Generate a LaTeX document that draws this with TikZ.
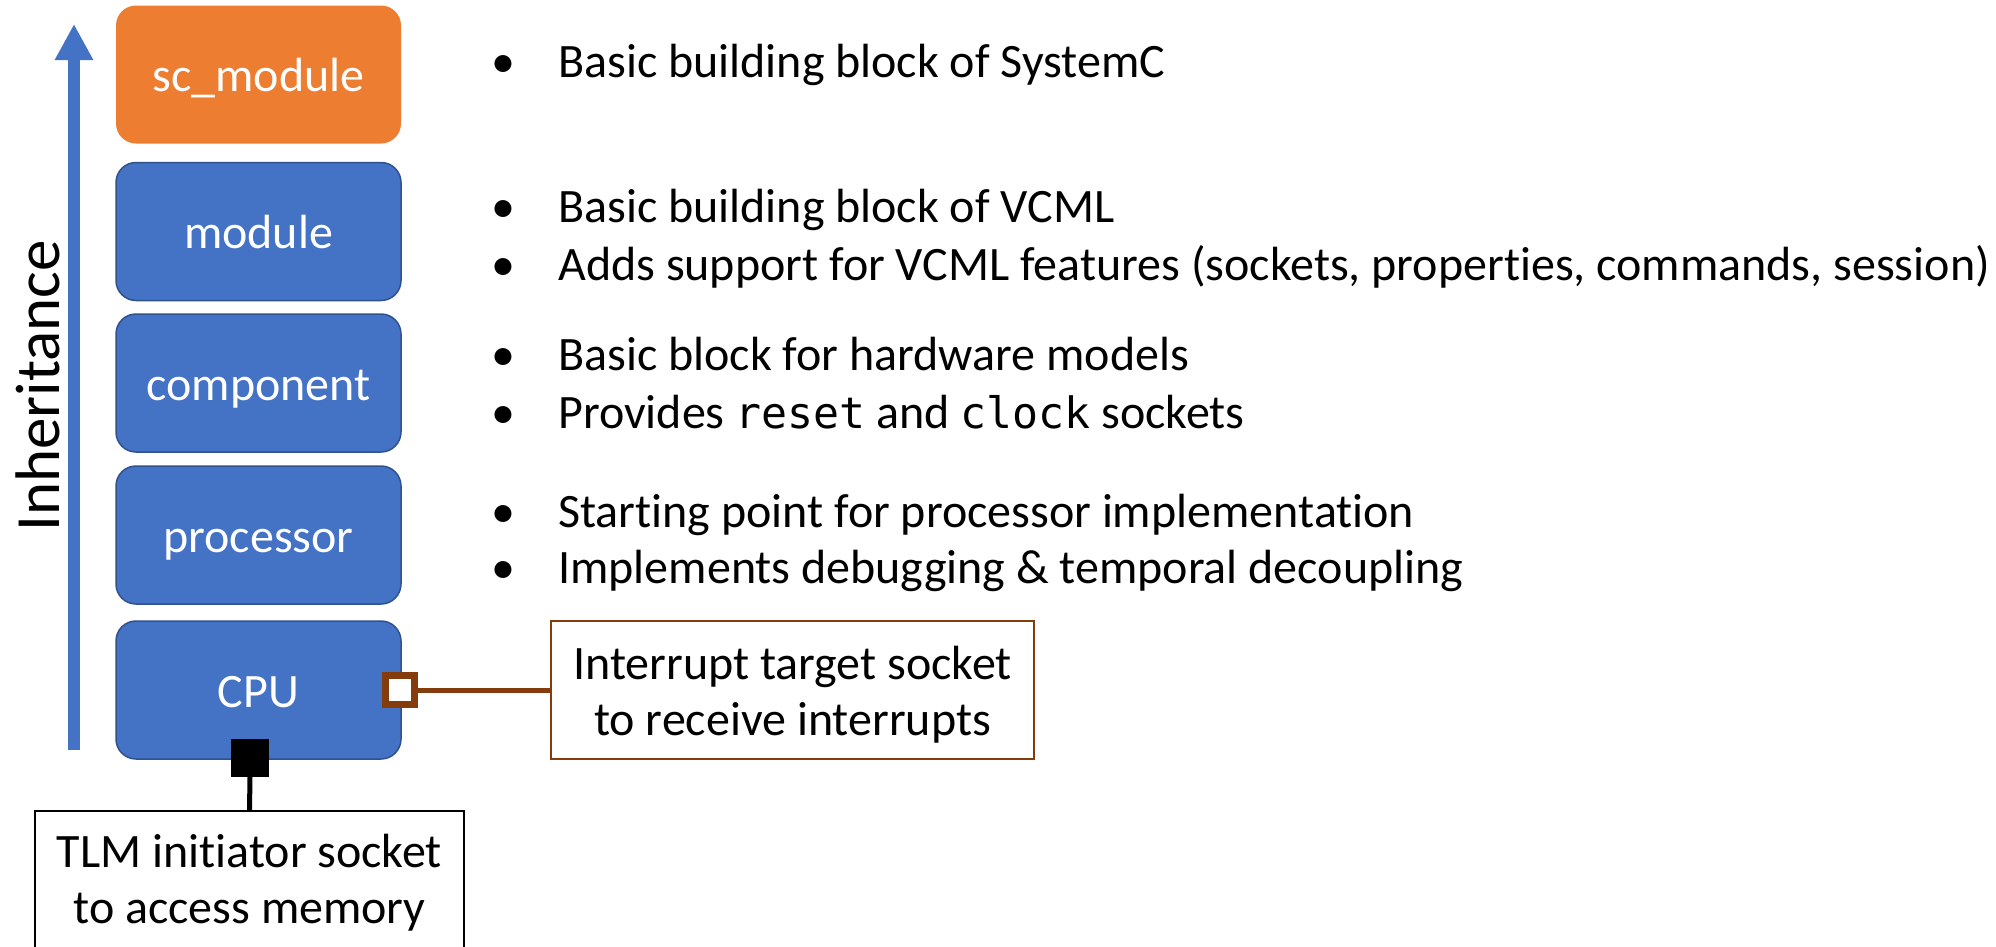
\documentclass[tikz,border=0pt]{standalone}
\usepackage{fontspec}
\setmainfont{Carlito}[Ligatures=NoCommon]
\newfontfamily\codefont{DejaVu Sans Mono}[Scale=0.9]
\usetikzlibrary{arrows.meta}

\definecolor{vorange}{HTML}{ED7D31}
\definecolor{vblue}{HTML}{4472C4}
\definecolor{vblueedge}{HTML}{2F528F}
\definecolor{vbrown}{HTML}{843C0C}

\newcommand{\bodyfont}{\fontsize{48}{56}\selectfont}

\begin{document}
\begin{tikzpicture}[x=1pt, y=-1pt,
  classbox/.style={draw=vblueedge, line width=1.5pt, fill=vblue, rounded corners=20pt,
    text=white, minimum width=285pt, minimum height=138pt, inner sep=0pt,
    text height=34pt, text depth=0pt, font=\bodyfont},
  basebox/.style={classbox, draw=none, fill=vorange},
  bullettext/.style={anchor=base west, inner sep=0pt, font=\bodyfont},
  bulletdot/.style={anchor=base, inner sep=0pt, font=\bodyfont},
  notebox/.style={draw, line width=2pt, fill=white, minimum width=429pt, inner sep=0pt},
  notetext/.style={align=center, inner sep=0pt, font=\bodyfont},
  inherit/.style={line width=12pt, vblue, -{Triangle[width=36pt, length=36pt]}}
]
\clip (0,0) rectangle (1996,946);
\fill[white] (0,0) rectangle (1996,946);

% inheritance arrow and its label
\coordinate (arrowfoot) at (74,750);
\coordinate (arrowtip) at (74,24);
\draw[inherit] (arrowfoot) -- (arrowtip);
\node[rotate=90, anchor=base, inner sep=0pt, font=\fontsize{63}{70}\selectfont]
  (inhlabel) at (59,386) {Inheritance};

% class hierarchy
\node[basebox]  (scmod) at (258.5,74.5) {sc\_module};
\node[classbox] (mod)   at (258.5,231.5) {module};
\node[classbox] (comp)  at (258.5,383)   {component};
\node[classbox] (proc)  at (258.5,535)   {processor};
\node[classbox] (cpu)   at (258.5,690)   {CPU};

% descriptions
\foreach \name/\y/\txt in {
    d1/77/{Basic building block of SystemC},
    d2/222/{Basic building block of VCML},
    d3/280/{Adds support for VCML features (sockets, properties, commands, session)},
    d4/370/{Basic block for hardware models},
    d5/428/{Provides {\codefont reset} and {\codefont clock} sockets},
    d6/527/{Starting point for processor implementation},
    d7/583/{Implements debugging \& temporal decoupling}} {
  \node[bulletdot]  (\name dot) at (503.5,\y) {\textbullet};
  \node[bullettext] (\name)     at (558,\y)   {\txt};
}

% interrupt target socket
\node[notebox, draw=vbrown, minimum width=483pt, minimum height=138pt] (irqbox) at (792.5,690) {};
\node[notetext] (irqtext) at (792.5,695) {Interrupt target socket\\to receive interrupts};
\draw[vbrown, line width=5pt] (cpu.east) -- (irqbox.west);
\node[draw=vbrown, line width=7pt, fill=white, minimum size=29pt, inner sep=0pt] (irqsock) at ([xshift=-2pt]cpu.east) {};

% TLM initiator socket
\node[notebox, minimum height=160pt] (tlmbox) at (249.5,891) {};
\node[notetext] (tlmtext) at (249.5,883) {TLM initiator socket\\to access memory};
\node[fill=black, minimum size=38pt, inner sep=0pt] (tlmsock) at (250,758) {};
\draw[line width=5pt] (tlmsock.south) -- (tlmbox.north);
\end{tikzpicture}
\end{document}
